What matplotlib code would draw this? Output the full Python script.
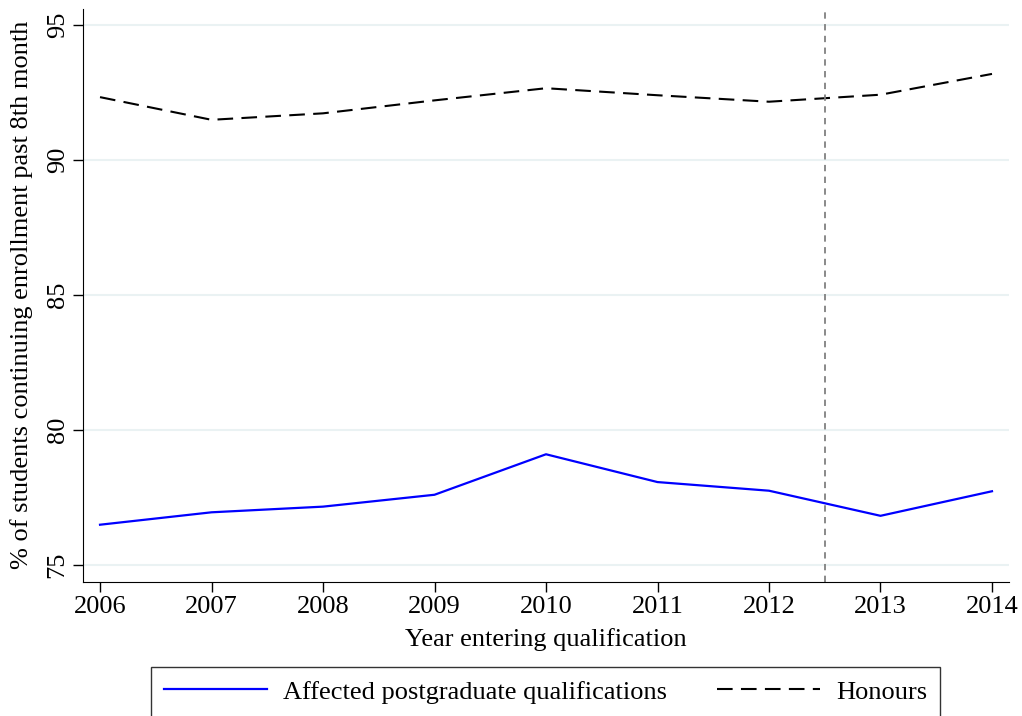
import matplotlib
matplotlib.use("Agg")
import matplotlib.pyplot as plt

# ---------------------------------------------------------
# Data
# ---------------------------------------------------------
years = [2006, 2007, 2008, 2009, 2010, 2011, 2012, 2013, 2014]
affected = [76.49, 76.95, 77.16, 77.60, 79.10, 78.07, 77.75, 76.82, 77.73]
honours = [92.33, 91.49, 91.73, 92.21, 92.66, 92.40, 92.16, 92.42, 93.19]
policy_year = 2012.5
y_ticks = [75, 80, 85, 90, 95]

plt.rcParams["font.family"] = ["Liberation Serif", "DejaVu Serif"]

fig = plt.figure(figsize=(10.22, 7.16), dpi=100)
ax = fig.add_axes([0.0815, 0.1876, 0.9055, 0.8004])

for t in y_ticks:
    ax.axhline(t, color="#eaf2f3", linewidth=1.5, zorder=0)

ax.plot(years, affected, color="#0000ff", linewidth=1.6,
        label="Affected postgraduate qualifications")
ax.plot(years, honours, color="black", linewidth=1.5, dashes=(7.5, 4),
        label="Honours")
ax.axvline(policy_year, color="#808080", linewidth=1.3, dashes=(3.5, 3))

ax.set_xlim(2005.85, 2014.15)
ax.set_ylim(74.38, 95.61)
ax.set_xticks(years)
ax.set_yticks(y_ticks)
ax.tick_params(axis="both", direction="out", length=7.5, width=1,
               labelsize=19, pad=3)
for lbl in ax.get_yticklabels():
    lbl.set_rotation(90)
    lbl.set_va("center")

ax.spines["top"].set_visible(False)
ax.spines["right"].set_visible(False)

ax.set_xlabel("Year entering qualification", fontsize=19, labelpad=7)
ax.set_ylabel("% of students continuing enrollment past 8th month",
              fontsize=19, labelpad=10)

leg = fig.legend(loc="upper center", bbox_to_anchor=(0.534, 0.087), ncol=2,
                 fontsize=19, frameon=True, fancybox=False, edgecolor="black",
                 handlelength=3.9, columnspacing=1.9, borderpad=0.5,
                 handletextpad=0.6)
leg.get_frame().set_linewidth(1.0)

fig.savefig("out.png", dpi=100)
